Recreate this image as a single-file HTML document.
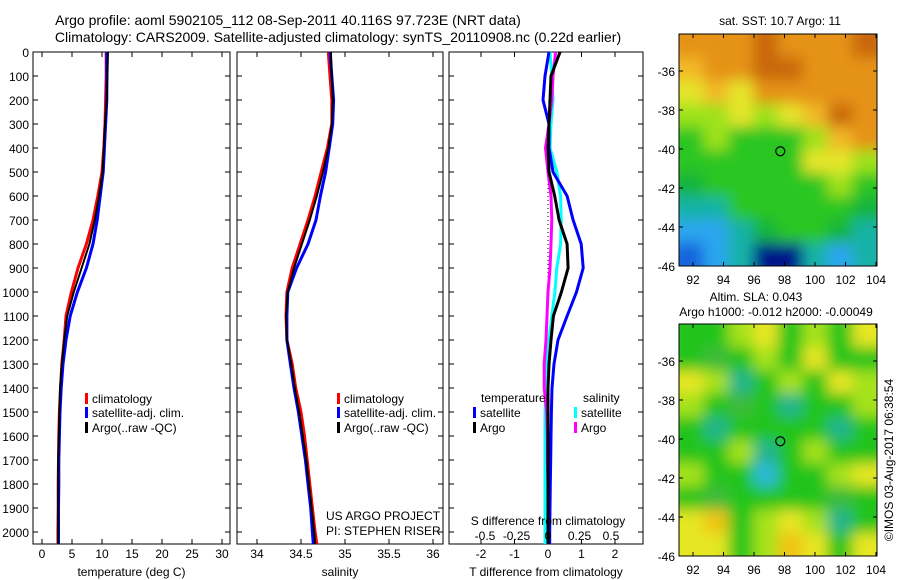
<!DOCTYPE html>
<html><head><meta charset="utf-8"><style>
html,body{margin:0;padding:0;background:#fff;}
svg{display:block;font-family:"Liberation Sans",sans-serif;}
text{fill:#000;}
</style></head><body>
<svg id="fig" width="900" height="580" viewBox="0 0 900 580" xmlns="http://www.w3.org/2000/svg">
<defs>
<filter id="blur" x="-5%" y="-5%" width="110%" height="110%"><feGaussianBlur stdDeviation="7"/></filter>
<clipPath id="clip1"><rect x="679" y="34" width="198" height="232"/></clipPath>
<clipPath id="clip2"><rect x="679" y="324" width="198" height="232"/></clipPath>
</defs>
<text x="288" y="25" font-size="14" text-anchor="middle">Argo profile: aoml 5902105_112 08-Sep-2011 40.116S 97.723E (NRT data)</text>
<text x="338" y="42" font-size="14" text-anchor="middle">Climatology: CARS2009. Satellite-adjusted climatology: synTS_20110908.nc (0.22d earlier)</text>
<g id="plots"></g>
</svg>
<script>
// ---- data ----
const depths = [0,100,200,300,400,500,600,700,800,900,1000,1100,1200,1300,1400,1500,1600,1700,1800,1900,2000,2050];
const tempClim = [10.7,10.7,10.6,10.5,10.3,10.0,9.3,8.5,7.4,6.0,4.9,4.0,3.7,3.3,3.1,2.9,2.8,2.75,2.7,2.7,2.65,2.65];
const tempSat  = [10.8,10.8,10.8,10.6,10.4,10.2,9.7,9.2,8.5,7.4,5.9,4.7,4.0,3.5,3.2,3.0,2.9,2.8,2.8,2.75,2.75,2.75];
const tempArgo = [11.0,10.9,10.8,10.5,10.3,10.1,9.5,8.8,7.9,6.6,5.3,4.2,3.7,3.3,3.0,2.9,2.8,2.7,2.7,2.7,2.7,2.7];
const salClim = [34.81,34.83,34.85,34.85,34.80,34.73,34.66,34.58,34.49,34.40,34.34,34.33,34.34,34.40,34.44,34.50,34.54,34.57,34.60,34.63,34.66,34.68];
const salSat  = [34.83,34.85,34.87,34.86,34.82,34.78,34.72,34.67,34.58,34.45,34.35,34.34,34.34,34.38,34.42,34.47,34.51,34.55,34.58,34.61,34.63,34.64];
const salArgo = [34.84,34.85,34.86,34.85,34.81,34.75,34.68,34.60,34.51,34.42,34.35,34.33,34.34,34.39,34.43,34.48,34.52,34.56,34.59,34.62,34.65,34.66];
const dTsat  = [0.03,-0.09,-0.15,0.03,0.03,0.15,0.57,0.75,0.99,1.05,0.85,0.57,0.30,0.18,0.12,0.10,0.09,0.08,0.07,0.06,0.05,0.05];
const dTargo = [0.36,0.09,0.06,0.03,0.0,0.03,0.20,0.33,0.57,0.60,0.40,0.16,0.09,0.03,0.0,0.0,0.0,0.0,0.0,0.0,0.0,0.0];
const dSsat  = [0.016,0.03,0.04,0.024,0.016,0.07,0.10,0.105,0.10,0.07,0.055,0.03,0.008,-0.008,-0.016,-0.024,-0.024,-0.024,-0.024,-0.024,-0.024,-0.024];
const dSargo = [0.06,0.04,0.03,0.008,-0.02,0.0,0.024,0.03,0.024,0.016,0.0,-0.008,-0.016,-0.03,-0.03,-0.01,-0.005,-0.005,0.0,0.0,0.0,0.0];
const depthTicks = [0,100,200,300,400,500,600,700,800,900,1000,1100,1200,1300,1400,1500,1600,1700,1800,1900,2000];
const tempTicks = [0,5,10,15,20,25,30];
const salTicks = [34,34.5,35,35.5,36];
const dTTicks = [-2,-1,0,1,2];
const dSTicks = [-0.5,-0.25,0,0.25,0.5];
const dSTickLabels = ["-0.5","-0.25","0","0.25","0.5"];
const lonTicks = [92,94,96,98,100,102,104];
const latTicks = [-36,-38,-40,-42,-44,-46];
const argoLon = 97.723, argoLat = -40.116;
const sstPal = {O:"#e59312",D:"#c9680e",Y:"#f2b827",E:"#e5e52a",L:"#9ee21f",G:"#2cc620",H:"#12b43a",T:"#16b2a6",C:"#2ba6ef",B:"#1565dd",N:"#05188a"};
const sstGrid = ["OOODOOOD","YOODDOOO","EYEOOOOO","LLELEYDO","GLGGGLYO","GGGGGEEL","HGGGGGLG","TTGGGGGH","CCTHGGHT","BCTNNTCT"];
const slaPal = {G:"#22c41e",L:"#a6e21a",E:"#e6e620",O:"#f0c416",T:"#24b48c",C:"#2cb8d8",H:"#3cbb3a"};
const slaGrid = ["GGLEGLGE","GHGLGEGG","ELTGLGEL","LGHGTGGL","GTGGGGTG","GGLTGLGG","LGGCGGLE","GHGGGGHG","EOGLELTG","EEGLOEGE"];

const svgNS="http://www.w3.org/2000/svg";
const root=document.getElementById('plots');
function el(tag,attrs,parent){const e=document.createElementNS(svgNS,tag);for(const k in attrs)e.setAttribute(k,attrs[k]);(parent||root).appendChild(e);return e;}
function txt(x,y,s,size,anchor,parent){const t=el('text',{x:x,y:y,'font-size':size,'text-anchor':anchor||'middle'},parent);t.textContent=s;return t;}

const yTop=52, yPerM=0.24, yBot=544;
const yD=d=>yTop+d*yPerM;

function panel(name,x0,x1,xf,xticks,xlabels,xtitle){
  const g=el('g',{});
  
  
  const r=el('rect',{x:x0,y:yTop,width:x1-x0,height:yBot-yTop,fill:'none',stroke:'#000','stroke-width':1},g);
  
  
  depthTicks.forEach(d=>{
    el('line',{x1:x0,x2:x0+5,y1:yD(d),y2:yD(d),stroke:'#000'},g);
    el('line',{x1:x1-5,x2:x1,y1:yD(d),y2:yD(d),stroke:'#000'},g);
  });
  if(xticks){xticks.forEach((v,i)=>{
    const x=xf(v);
    el('line',{x1:x,x2:x,y1:yBot,y2:yBot-5,stroke:'#000'},g);
    el('line',{x1:x,x2:x,y1:yTop,y2:yTop+5,stroke:'#000'},g);
    const t=txt(x,558,xlabels[i],12,'middle',g);
    
    
  });}
  const tt=txt((x0+x1)/2,576,xtitle,12,'middle',g);
  
  
  return g;
}
function line(g,vals,xf,color,name,w){
  let d='';
  vals.forEach((v,i)=>{d+=(i?'L':'M')+xf(v).toFixed(1)+','+yD(depths[i]).toFixed(1);});
  const p=el('path',{d:d,fill:'none',stroke:color,'stroke-width':w||3,'stroke-linejoin':'round'},g);
  
  
}
function legend(g,x,y,color,label){
  el('rect',{x:x,y:y-10,width:3,height:11,fill:color},g);
  const t=txt(x+7,y,label,12,'start',g);
  
  
}

depthTicks.forEach(d=>{const t=txt(29,yD(d)+5,String(d),12,'end');
  
  });

const xT=v=>42+v*6.0;
const g1=panel('temperature-panel',33,230,xT,tempTicks,tempTicks.map(String),'temperature (deg C)');
line(g1,tempClim,xT,'#ff0000','temp-climatology-line');
line(g1,tempSat,xT,'#0000ff','temp-satellite-line');
line(g1,tempArgo,xT,'#000000','temp-argo-line',2);
legend(g1,85,403,'#ff0000','climatology');
legend(g1,85,417,'#0000ff','satellite-adj. clim.');
legend(g1,85,432,'#000000','Argo(..raw -QC)');

const xS=v=>257+(v-34)*88;
const g2=panel('salinity-panel',237,443,xS,salTicks,salTicks.map(String),'salinity');
line(g2,salClim,xS,'#ff0000','sal-climatology-line');
line(g2,salSat,xS,'#0000ff','sal-satellite-line');
line(g2,salArgo,xS,'#000000','sal-argo-line',2);
legend(g2,337,403,'#ff0000','climatology');
legend(g2,337,417,'#0000ff','satellite-adj. clim.');
legend(g2,337,432,'#000000','Argo(..raw -QC)');
let t=txt(326,520,'US ARGO PROJECT',12,'start',g2);


t=txt(326,535,'PI: STEPHEN RISER',12,'start',g2);



const xdT=v=>548+v*33.5;
const xdS=v=>548+v*126;
const g3=panel('difference-panel',449,643,xdT,dTTicks,dTTicks.map(String),'T difference from climatology');
el('line',{x1:548,x2:548,y1:yD(300),y2:yD(1050),stroke:'#000','stroke-dasharray':'1,3'},g3);
line(g3,dSsat,xdS,'#00ffff','s-diff-satellite-line');
line(g3,dSargo,xdS,'#ff00ff','s-diff-argo-line');
line(g3,dTsat,xdT,'#0000ff','t-diff-satellite-line');
line(g3,dTargo,xdT,'#000000','t-diff-argo-line');
dSTicks.forEach((v,i)=>{
  const lt=txt(xdS(v),540,dSTickLabels[i],12,'middle',g3);
  
  
});
t=txt(548,525,'S difference from climatology',12,'middle',g3);


t=txt(481,402,'temperature',12,'start',g3);


t=txt(583,402,'salinity',12,'start',g3);


legend(g3,473,417,'#0000ff','satellite');
legend(g3,473,432,'#000000','Argo');
legend(g3,574,417,'#00ffff','satellite');
legend(g3,574,432,'#ff00ff','Argo');

const mx0=679,mx1=877;
const lonX=v=>693+(v-92)*15.25;
function map(name,top,grid,pal,clipId){
  const g=el('g',{});
  
  
  const bot=top+232;
  const latY=v=>top+37+(-36-v)*19.5;
  const rows=grid.length, cols=grid[0].length;
  const cw=(mx1-mx0)/cols, ch=(bot-top)/rows;
  const cg=el('g',{'clip-path':'url(#'+clipId+')'},g);
  const bg=el('g',{filter:'url(#blur)'},cg);
  grid.forEach((row,r)=>{[...row].forEach((c,k)=>{
    const x=mx0+k*cw - (k===0?12:0), y=top+r*ch-(r===0?12:0);
    const w=cw+0.6+(k===0?12:0)+(k===cols-1?12:0), h=ch+0.6+(r===0?12:0)+(r===rows-1?12:0);
    const cell=el('rect',{x:x,y:y,width:w,height:h,fill:pal[c]},bg);
    
    
  });});
  el('rect',{x:mx0,y:top,width:mx1-mx0,height:bot-top,fill:'none',stroke:'#000'},g);
  lonTicks.forEach(v=>{const x=lonX(v);
    el('line',{x1:x,x2:x,y1:bot,y2:bot-4,stroke:'#000'},g);
    el('line',{x1:x,x2:x,y1:top,y2:top+4,stroke:'#000'},g);
    const lt=txt(x,bot+18,String(v),12,'middle',g);
    
    });
  latTicks.forEach(v=>{const y=latY(v);
    el('line',{x1:mx0,x2:mx0+4,y1:y,y2:y,stroke:'#000'},g);
    el('line',{x1:mx1-4,x2:mx1,y1:y,y2:y,stroke:'#000'},g);
    const lt=txt(675,y+5,String(v),12,'end',g);
    
    });
  const c=el('circle',{cx:lonX(argoLon),cy:latY(argoLat),r:4.5,fill:'none',stroke:'#000','stroke-width':1.2},g);
  
  
  return g;
}
map('sst-map',34,sstGrid,sstPal,'clip1');
map('sla-map',324,slaGrid,slaPal,'clip2');
t=txt(780,25,'sat. SST: 10.7 Argo: 11',12,'middle');


t=txt(756,301,'Altim. SLA: 0.043',12,'middle');


t=txt(776,316,'Argo h1000: -0.012 h2000: -0.00049',12,'middle');


t=txt(0,0,'©IMOS 03-Aug-2017 06:38:54',12,'middle');
t.setAttribute('transform','translate(893,460) rotate(-90)');


</script>
</body></html>
